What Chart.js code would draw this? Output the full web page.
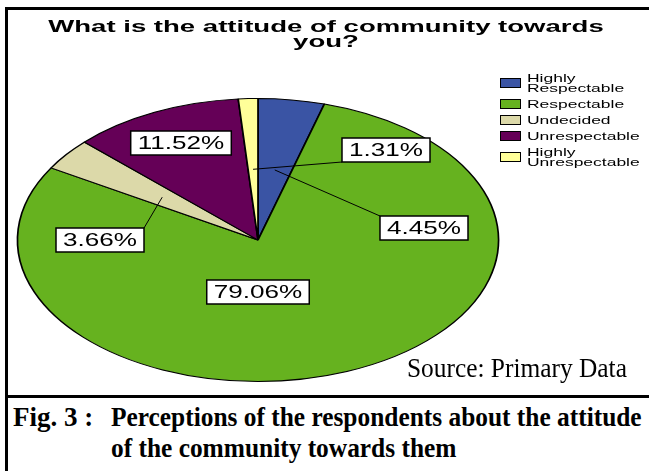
<!DOCTYPE html>
<html>
<head>
<meta charset="utf-8">
<script src="https://cdn.jsdelivr.net/npm/chart.js@4.4.1/dist/chart.umd.min.js"></script>
<style>
  html, body { margin: 0; padding: 0; background: #fff; }
  body { width: 649px; height: 471px; position: relative; overflow: hidden; }
  #frame { position: absolute; left: 5px; top: 7px; width: 720px; height: 540px; border: 3px solid #000; box-sizing: border-box; }
  #sep { position: absolute; left: 5px; top: 395px; width: 720px; height: 3px; background: #000; }
  #wrap { position: absolute; left: 0; top: 0; width: 649px; height: 395px; }
  .cap { position: absolute; font: bold 27px "Liberation Serif", "Times New Roman", serif; line-height: 31px; white-space: nowrap; color: #000; }
  #figno { left: 13px; top: 402px; }
  #figtxt { left: 111px; top: 402px; transform: scaleX(0.94); transform-origin: left top; }
</style>
</head>
<body>
<div id="frame"></div>
<div id="sep"></div>
<div id="wrap"><canvas id="chart"></canvas></div>
<div class="cap" id="figno">Fig. 3 :</div>
<div class="cap" id="figtxt">Perceptions of the respondents about the attitude<br>of the community towards them</div>
<script>
const titleLines = ["What is the attitude of community towards", "you?"];
const categories = ["Highly Respectable", "Respectable", "Undecided", "Unrespectable", "Highly Unrespectable"];
const legendLines = [["Highly", "Respectable"], ["Respectable"], ["Undecided"], ["Unrespectable"], ["Highly", "Unrespectable"]];
const percents = [4.45, 79.06, 3.66, 11.52, 1.31];
const sliceColors = ["#3a54a4", "#66b21f", "#dcd9a9", "#650057", "#ffff99"];
const sourceNote = "Source: Primary Data";

// where each percentage box sits, relative to the pie centre
const callouts = [
  { dx: 166, dy: -12, leader: true },
  { dx: 0, dy: 52, leader: false },
  { dx: -158, dy: 0, leader: true },
  { dx: -77, dy: -97, leader: false },
  { dx: 128, dy: -90, leader: true },
];

const PIE_STRETCH = 1.70; // the original pie is an ellipse
const FONT = '"Liberation Sans", Arial, sans-serif';

function wideText(ctx, text, x, y, sx, align) {
  ctx.save();
  ctx.translate(x, y);
  ctx.scale(sx, 1);
  ctx.textAlign = align;
  ctx.fillText(text, 0, 0);
  ctx.restore();
}

const ellipse = {
  id: "ellipse",
  beforeDatasetsDraw(chart) {
    const arc = chart.getDatasetMeta(0).data[0];
    const ctx = chart.ctx;
    ctx.save();
    ctx.translate(arc.x, arc.y);
    ctx.scale(PIE_STRETCH, 1);
    ctx.translate(-arc.x, -arc.y);
  },
  afterDatasetsDraw(chart) {
    chart.ctx.restore();
  },
};

const overlay = {
  id: "overlay",
  afterDraw(chart) {
    const ctx = chart.ctx;
    ctx.save();
    ctx.fillStyle = "#000";
    ctx.textBaseline = "alphabetic";

    // title
    ctx.font = `bold 17px ${FONT}`;
    wideText(ctx, titleLines[0], 326, 32, 1.62, "center");
    wideText(ctx, titleLines[1], 326, 47, 1.62, "center");

    // legend
    ctx.font = `11.5px ${FONT}`;
    ctx.textBaseline = "middle";
    let y = 70;
    legendLines.forEach((lines, i) => {
      const h = 16 + (lines.length - 1) * 10;
      const cy = y + h / 2;
      ctx.fillStyle = sliceColors[i];
      ctx.fillRect(500, cy - 5, 21, 10);
      ctx.strokeStyle = "#000";
      ctx.lineWidth = 1;
      ctx.strokeRect(500.5, cy - 4.5, 20, 9);
      ctx.fillStyle = "#000";
      lines.forEach((t, k) => {
        const ly = cy + (k - (lines.length - 1) / 2) * 10 + 0.5;
        wideText(ctx, t, 527, ly, 1.52, "left");
      });
      y += h;
    });

    // percentage boxes
    const meta = chart.getDatasetMeta(0);
    ctx.font = `18px ${FONT}`;
    meta.data.forEach((arc, i) => {
      const c = callouts[i];
      const text = percents[i].toFixed(2) + "%";
      const w = ctx.measureText(text).width * 1.45 + 14;
      const h = 24;
      const bx = arc.x + c.dx - w / 2;
      const by = arc.y + c.dy - h / 2;
      if (c.leader) {
        const mid = (arc.startAngle + arc.endAngle) / 2;
        const ax = arc.x + Math.cos(mid) * arc.outerRadius * 0.5 * PIE_STRETCH;
        const ay = arc.y + Math.sin(mid) * arc.outerRadius * 0.5;
        const corners = [[bx, by], [bx + w, by], [bx, by + h], [bx + w, by + h]];
        let best = corners[0];
        corners.forEach((p) => {
          if (Math.hypot(p[0] - ax, p[1] - ay) < Math.hypot(best[0] - ax, best[1] - ay)) best = p;
        });
        ctx.beginPath();
        ctx.moveTo(ax, ay);
        ctx.lineTo(best[0], best[1]);
        ctx.strokeStyle = "#000";
        ctx.lineWidth = 1;
        ctx.stroke();
      }
      ctx.fillStyle = "#fff";
      ctx.fillRect(bx, by, w, h);
      ctx.strokeStyle = "#000";
      ctx.lineWidth = 1.5;
      ctx.strokeRect(bx, by, w, h);
      ctx.fillStyle = "#000";
      wideText(ctx, text, arc.x + c.dx, arc.y + c.dy + 1, 1.45, "center");
    });

    // source note
    ctx.textBaseline = "alphabetic";
    ctx.font = `27px "Liberation Serif", "Times New Roman", serif`;
    wideText(ctx, sourceNote, 407, 377, 0.94, "left");
    ctx.restore();
  },
};

new Chart(document.getElementById("chart"), {
  type: "pie",
  data: {
    labels: categories,
    datasets: [
      {
        data: percents,
        backgroundColor: sliceColors,
        borderColor: "#000",
        borderWidth: 1,
        clip: false,
      },
    ],
  },
  options: {
    responsive: true,
    maintainAspectRatio: false,
    animation: false,
    events: [],
    layout: { padding: { left: 116, right: 249, top: 98, bottom: 13 } },
    plugins: {
      legend: { display: false },
      tooltip: { enabled: false },
      title: { display: false },
    },
  },
  plugins: [ellipse, overlay],
});
</script>
</body>
</html>
